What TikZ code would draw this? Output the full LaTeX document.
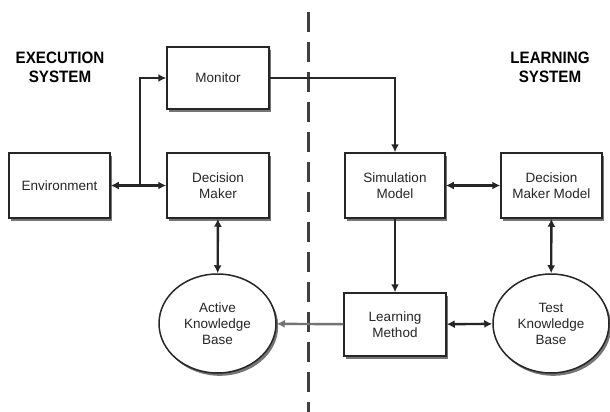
\documentclass[tikz,border=0pt]{standalone}
\usepackage{fontspec}
\setmainfont{Liberation Sans}
\usetikzlibrary{shapes.geometric,arrows.meta,shadows}
\begin{document}
\begin{tikzpicture}[x=1pt,y=-1pt,
  box/.style={draw=black!85,line width=1.5pt,fill=white,
    drop shadow={shadow xshift=2.2pt,shadow yshift=-2.8pt,fill=black!60,opacity=0.9},
    font=\fontsize{13.5}{16}\selectfont,align=center,text=black!85,inner sep=0pt},
  kb/.style={box,ellipse},
  head/.style={font=\fontsize{16.5}{19}\selectfont\bfseries,align=center,inner sep=0pt,
    xscale=0.92},
  conn/.style={line width=2.4pt,draw=black!85,
    arrows={-Latex[length=8pt,width=8pt]}},
  bconn/.style={conn,arrows={Latex[length=8pt,width=8pt]-Latex[length=8pt,width=8pt]}},
]
\useasboundingbox (0,0) rectangle (610,412);
\draw[line width=3pt,draw=black!75,dash pattern=on 20pt off 10pt] (308,12) -- (308,412);

\node[head] (hexec) at (60,67.5) {EXECUTION\\SYSTEM};
\node[head] (hlearn) at (550,67.5) {LEARNING\\SYSTEM};

\node[box,minimum width=102pt,minimum height=62pt] (mon) at (218,78) {Monitor};
\node[box,minimum width=101pt,minimum height=65pt] (env) at (59.5,185.5) {Environment};
\node[box,minimum width=102pt,minimum height=65pt] (dm) at (218,185.5) {Decision\\Maker};
\node[box,minimum width=100pt,minimum height=65pt] (sim) at (395,185.5) {Simulation\\Model};
\node[box,minimum width=101pt,minimum height=65pt] (dmm) at (551.5,185.5) {Decision\\Maker Model};
\node[box,minimum width=102pt,minimum height=63pt] (lm) at (395,324.5) {Learning\\Method};
\node[kb,minimum width=117pt,minimum height=99pt] (akb) at (217.5,323.5) {Active\\Knowledge\\Base};
\node[kb,minimum width=116pt,minimum height=99pt] (tkb) at (551,323.5) {Test\\Knowledge\\Base};

\coordinate (j) at (140,185.5);
\draw[bconn] (env) -- (dm);
\draw[conn] (j) |- (mon.west);
\draw[conn] (mon.east) -| (sim.north);
\draw[bconn] (sim) -- (dmm);
\draw[bconn] (dm) -- (akb);
\draw[conn] (sim) -- (lm);
\draw[conn,draw=black!55] (lm) -- (akb);
\draw[bconn] (lm) -- (tkb);
\draw[bconn] (dmm) -- (tkb);
\end{tikzpicture}
\end{document}
